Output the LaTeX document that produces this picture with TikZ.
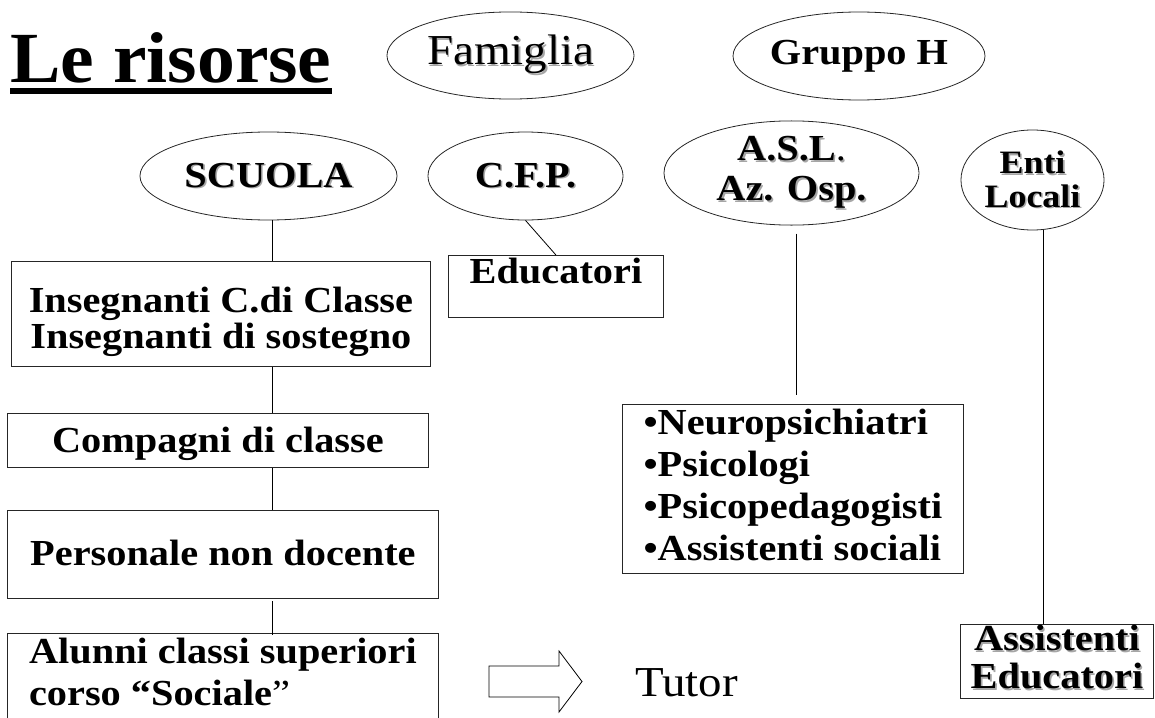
\documentclass[tikz,border=0pt]{standalone}
\usepackage{fontspec}
\setmainfont{Liberation Serif}[FakeStretch=1.1]
\newfontfamily\titlefont{Liberation Serif}[FakeStretch=1.05]
\usetikzlibrary{positioning,shapes}

% grey drop shadow behind a word
\newcommand{\shad}[1]{\leavevmode\rlap{\hspace{1.2pt}\raisebox{-1.2pt}{\textcolor{black!35}{#1}}}#1}

\begin{document}
\begin{tikzpicture}[
    x=0.75pt, y=-0.75pt,
    line width=0.6pt,
    oval/.style={draw=black!85, ellipse, inner sep=0pt, align=center, font=\fontsize{27.5}{30}\selectfont\bfseries},
    box/.style={draw=black!85, inner sep=0pt, anchor=north west, align=center, font=\fontsize{27.5}{27}\selectfont\bfseries},
    lighttext/.style={font=\fontsize{32}{32}\selectfont}
  ]
  \useasboundingbox (0,0) rectangle (1155,717);

  % title
  \node (T) [anchor=base west, inner sep=0pt, font=\titlefont\fontsize{54}{54}\selectfont\bfseries] at (10,82) {Le risorse};
  \draw[line width=4.5pt] ([yshift=-6.75pt]T.base west) -- ([yshift=-6.75pt]T.base east);

  % ovals
  \node (Fam) [oval, lighttext, minimum width=185.3pt, minimum height=65.3pt] at (510.5,55.5) {\shad{Famiglia}};
  \node (GH) [oval, minimum width=184.5pt, minimum height=66pt] at (859,56) {Gruppo H};
  \node (Scuola) [oval, minimum width=192.8pt, minimum height=66pt] at (268.5,176) {\shad{SCUOLA}};
  \node (CFP) [oval, minimum width=146.3pt, minimum height=66pt] at (525.5,176) {\shad{C.F.P.}};
  \node (ASL) [oval, minimum width=191.3pt, minimum height=72.8pt] at (791.5,173) {\shad{A.S.L{\mdseries .}}\\\shad{Az. Osp.}};
  \node (Enti) [oval, minimum width=107.3pt, minimum height=75pt, font=\fontsize{24.5}{25}\selectfont\bfseries] at (1032.5,180) {\shad{Enti}\\\shad{Locali}};

  % boxes
  \node (Ins) [box, minimum width=314.3pt, text height=65.25pt, text depth=13.5pt] at (11,261) {Insegnanti C.di Classe\\Insegnanti di sostegno};
  \node (Edu) [box, minimum width=161.3pt, text height=21pt, text depth=25.5pt] at (448,255) {Educatori};
  \node (Comp) [box, minimum width=315.8pt, text height=29.25pt, text depth=11.25pt] at (7,413) {Compagni di classe};
  \node (Pers) [box, minimum width=323.3pt, text height=41.25pt, text depth=24.75pt] at (7,510) {Personale non docente};
  \node (Alun) [box, align=left, minimum width=323.3pt, text height=54pt, text depth=41.25pt, font=\fontsize{27.5}{31.5}\selectfont\bfseries] at (7,633) {Alunni classi superiori\\corso ``Sociale{\mdseries''}};
  \node (Psy) [box, align=left, minimum width=255.8pt, text height=117pt, text depth=9.75pt, font=\fontsize{27.5}{31.5}\selectfont\bfseries] at (622,404) {•Neuropsichiatri\\•Psicologi\\•Psicopedagogisti\\•Assistenti sociali};
  \node (Ass) [box, minimum width=144.8pt, text height=48pt, text depth=7.5pt, font=\fontsize{27.5}{28.5}\selectfont\bfseries] at (960,624) {\shad{Assistenti}\\\shad{Educatori}};
  \node (Tut) [lighttext, anchor=base west, inner sep=0pt] at (635,696) {Tutor};

  % block arrow
  \draw (489,666) -- (559,666) -- (559,651) -- (582,681.5) -- (559,712) -- (559,697) -- (489,697) -- cycle;

  % links
  \coordinate (spine) at (272,0);
  \draw (Scuola.south -| spine) -- (Ins.north -| spine);
  \draw (Ins.south -| spine) -- (Comp.north -| spine);
  \draw (Comp.south -| spine) -- (Pers.north -| spine);
  \draw[shorten <=2pt] (Pers.south -| spine) -- ([yshift=-1.5pt]Alun.north -| spine);
  \draw (CFP.south) -- (Edu.north);
  \draw[shorten <=6pt, shorten >=6.75pt] ([xshift=3.4pt]ASL.south) -- ([xshift=3.4pt]ASL.south |- Psy.north);
  \draw ([xshift=7.9pt]Enti.south) -- ([xshift=7.9pt]Enti.south |- Ass.north);
\end{tikzpicture}
\end{document}
